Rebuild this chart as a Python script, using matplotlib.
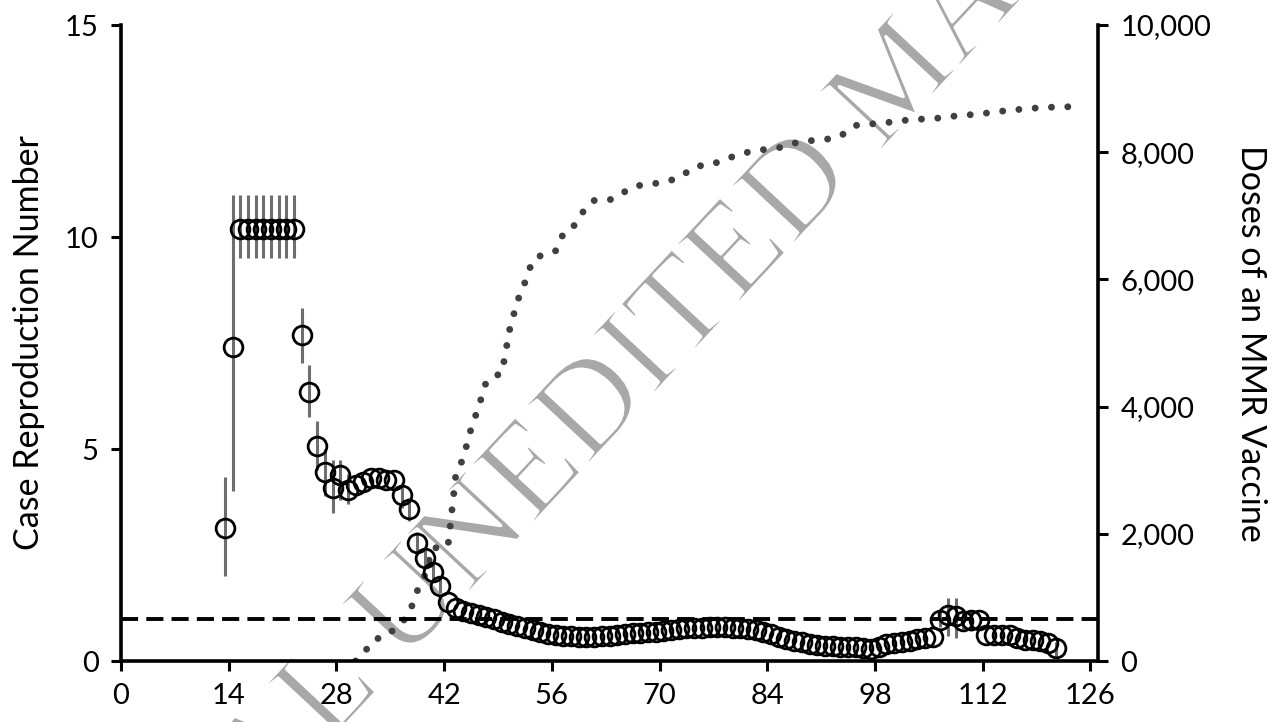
import matplotlib
matplotlib.use("Agg")
import matplotlib.pyplot as plt
import matplotlib.patheffects as pe
from matplotlib.ticker import FuncFormatter

plt.rcParams['font.family'] = ['Lato', 'DejaVu Sans']

# case reproduction number, one value per day (days 13..121)
r_days = list(range(13, 122))
r_vals = [3.13, 7.40, 10.2, 10.2, 10.2, 10.2, 10.2, 10.2, 10.2, 10.2,
          7.69, 6.35, 5.08, 4.46, 4.07, 4.39, 4.03, 4.15, 4.23, 4.31,
          4.32, 4.27, 4.27, 3.92, 3.58, 2.78, 2.42, 2.09, 1.78, 1.40,
          1.26, 1.17, 1.14, 1.09, 1.04, 0.98, 0.92, 0.87, 0.82, 0.77,
          0.72, 0.68, 0.64, 0.61, 0.60, 0.58, 0.57, 0.57, 0.57, 0.58,
          0.60, 0.61, 0.63, 0.65, 0.66, 0.68, 0.69, 0.71, 0.72, 0.75,
          0.77, 0.78, 0.79, 0.80, 0.80, 0.80, 0.79, 0.78, 0.76, 0.73,
          0.68, 0.63, 0.57, 0.52, 0.48, 0.44, 0.41, 0.38, 0.36, 0.35,
          0.34, 0.34, 0.33, 0.31, 0.29, 0.32, 0.39, 0.42, 0.45, 0.48,
          0.51, 0.54, 0.57, 0.97, 1.08, 1.05, 0.95, 0.97, 0.97, 0.61,
          0.61, 0.61, 0.61, 0.55, 0.50, 0.50, 0.48, 0.42, 0.30]

# confidence intervals where they show outside the markers
ci_days = [13, 14, 15, 16, 17, 18, 19, 20, 21, 22, 23, 24, 25, 26, 27, 28, 29,
           36, 37, 38, 39, 40, 41, 106, 107, 108, 109, 110, 121]
ci_lo = [2.00, 4.00, 9.5, 9.5, 9.5, 9.5, 9.5, 9.5, 9.5, 9.5, 7.03, 5.76, 4.5,
         3.9, 3.49, 3.8, 3.7, 3.6, 3.3, 2.5, 2.2, 1.9, 1.6,
         0.8, 0.6, 0.55, 0.75, 0.7, 0.1]
ci_hi = [4.33, 11.0, 11.0, 11.0, 11.0, 11.0, 11.0, 11.0, 11.0, 11.0, 8.33, 6.98,
         5.67, 5.0, 4.74, 4.74, 4.4, 4.2, 3.85, 3.05, 2.65, 2.3, 1.95,
         1.2, 1.48, 1.48, 1.15, 1.2, 0.45]

# cumulative MMR vaccine doses (days 30..124)
dose_days = list(range(30, 125))
doses = [0, 100, 300, 360, 390, 500, 600, 760, 1100, 1350,
         1780, 1780, 1800, 2900, 3200, 3650, 4000, 4400, 4480, 4520,
         5200, 5650, 5950, 6300, 6370, 6420, 6450, 6720, 6780, 6950,
         7150, 7240, 7240, 7250, 7300, 7380, 7450, 7480, 7500, 7510,
         7540, 7560, 7600, 7680, 7770, 7790, 7800, 7840, 7880, 7930,
         7970, 8000, 8020, 8040, 8050, 8070, 8100, 8140, 8170, 8180,
         8190, 8200, 8220, 8250, 8340, 8420, 8440, 8445, 8450, 8465,
         8480, 8495, 8510, 8520, 8520, 8525, 8540, 8555, 8570, 8580,
         8590, 8600, 8615, 8630, 8645, 8660, 8670, 8680, 8690, 8700,
         8705, 8710, 8712, 8716, 8720]

x_ticks = [0, 14, 28, 42, 56, 70, 84, 98, 112, 126]

fig = plt.figure(figsize=(12.78, 7.22), dpi=100)
ax = fig.add_axes([121 / 1278, 61 / 722, 977 / 1278, 636 / 722])
ax2 = ax.twinx()

# watermark (white stroke thins the glyphs)
fig.text(0.532, 0.557, "ORIGINAL UNEDITED MANUSCRIPT", fontsize=95,
         family='Liberation Serif', color='#a8a8a8', rotation=47,
         ha='center', va='center', rotation_mode='anchor', zorder=0,
         path_effects=[pe.Stroke(linewidth=2.4, foreground='white')])
ax.set_zorder(2)
ax2.set_zorder(1)
ax.patch.set_visible(False)
ax2.patch.set_visible(False)

# categories sit between tick marks
rx = [d + 0.5 for d in r_days]
cx = [d + 0.5 for d in ci_days]
dx = [d + 0.5 for d in dose_days]
cv = [r_vals[r_days.index(d)] for d in ci_days]

ax2.plot(dx, doses, color='#404040', lw=5, linestyle=(0, (0.001, 2.35)),
         dash_capstyle='round')

ax.axhline(1, color='black', lw=2.8, linestyle=(0, (4.4, 2.1)))
ax.errorbar(cx, cv, yerr=[[v - lo for v, lo in zip(cv, ci_lo)],
                          [hi - v for v, hi in zip(cv, ci_hi)]],
            fmt='none', ecolor='#6e6e6e', elinewidth=2.2, capsize=0)
ax.plot(rx, r_vals, 'o', mfc='none', mec='black', ms=13.5, mew=2)

ax.set_xlim(0, 127)
ax.set_ylim(0, 15)
ax2.set_ylim(0, 10000)
ax.set_xticks(x_ticks)
ax.set_yticks([0, 5, 10, 15])
ax2.set_yticks([0, 2000, 4000, 6000, 8000, 10000])
ax2.yaxis.set_major_formatter(FuncFormatter(lambda v, p: f"{int(v):,}"))

for a in (ax, ax2):
    a.spines['top'].set_visible(False)
    for s in ('left', 'right', 'bottom'):
        a.spines[s].set_linewidth(2.6)
ax.spines['right'].set_visible(False)
ax2.spines['left'].set_visible(False)
ax2.spines['bottom'].set_visible(False)

ax.tick_params(axis='both', direction='out', length=7, width=2.2,
               labelsize=21, pad=9)
ax2.tick_params(axis='y', direction='out', length=7, width=2.2,
                labelsize=21, pad=9)

ax.set_ylabel("Case Reproduction Number", fontsize=24.5, labelpad=14)
ax2.set_ylabel("Doses of an MMR Vaccine", fontsize=24.5, rotation=270,
               labelpad=40)

fig.savefig("out.png", dpi=100)
